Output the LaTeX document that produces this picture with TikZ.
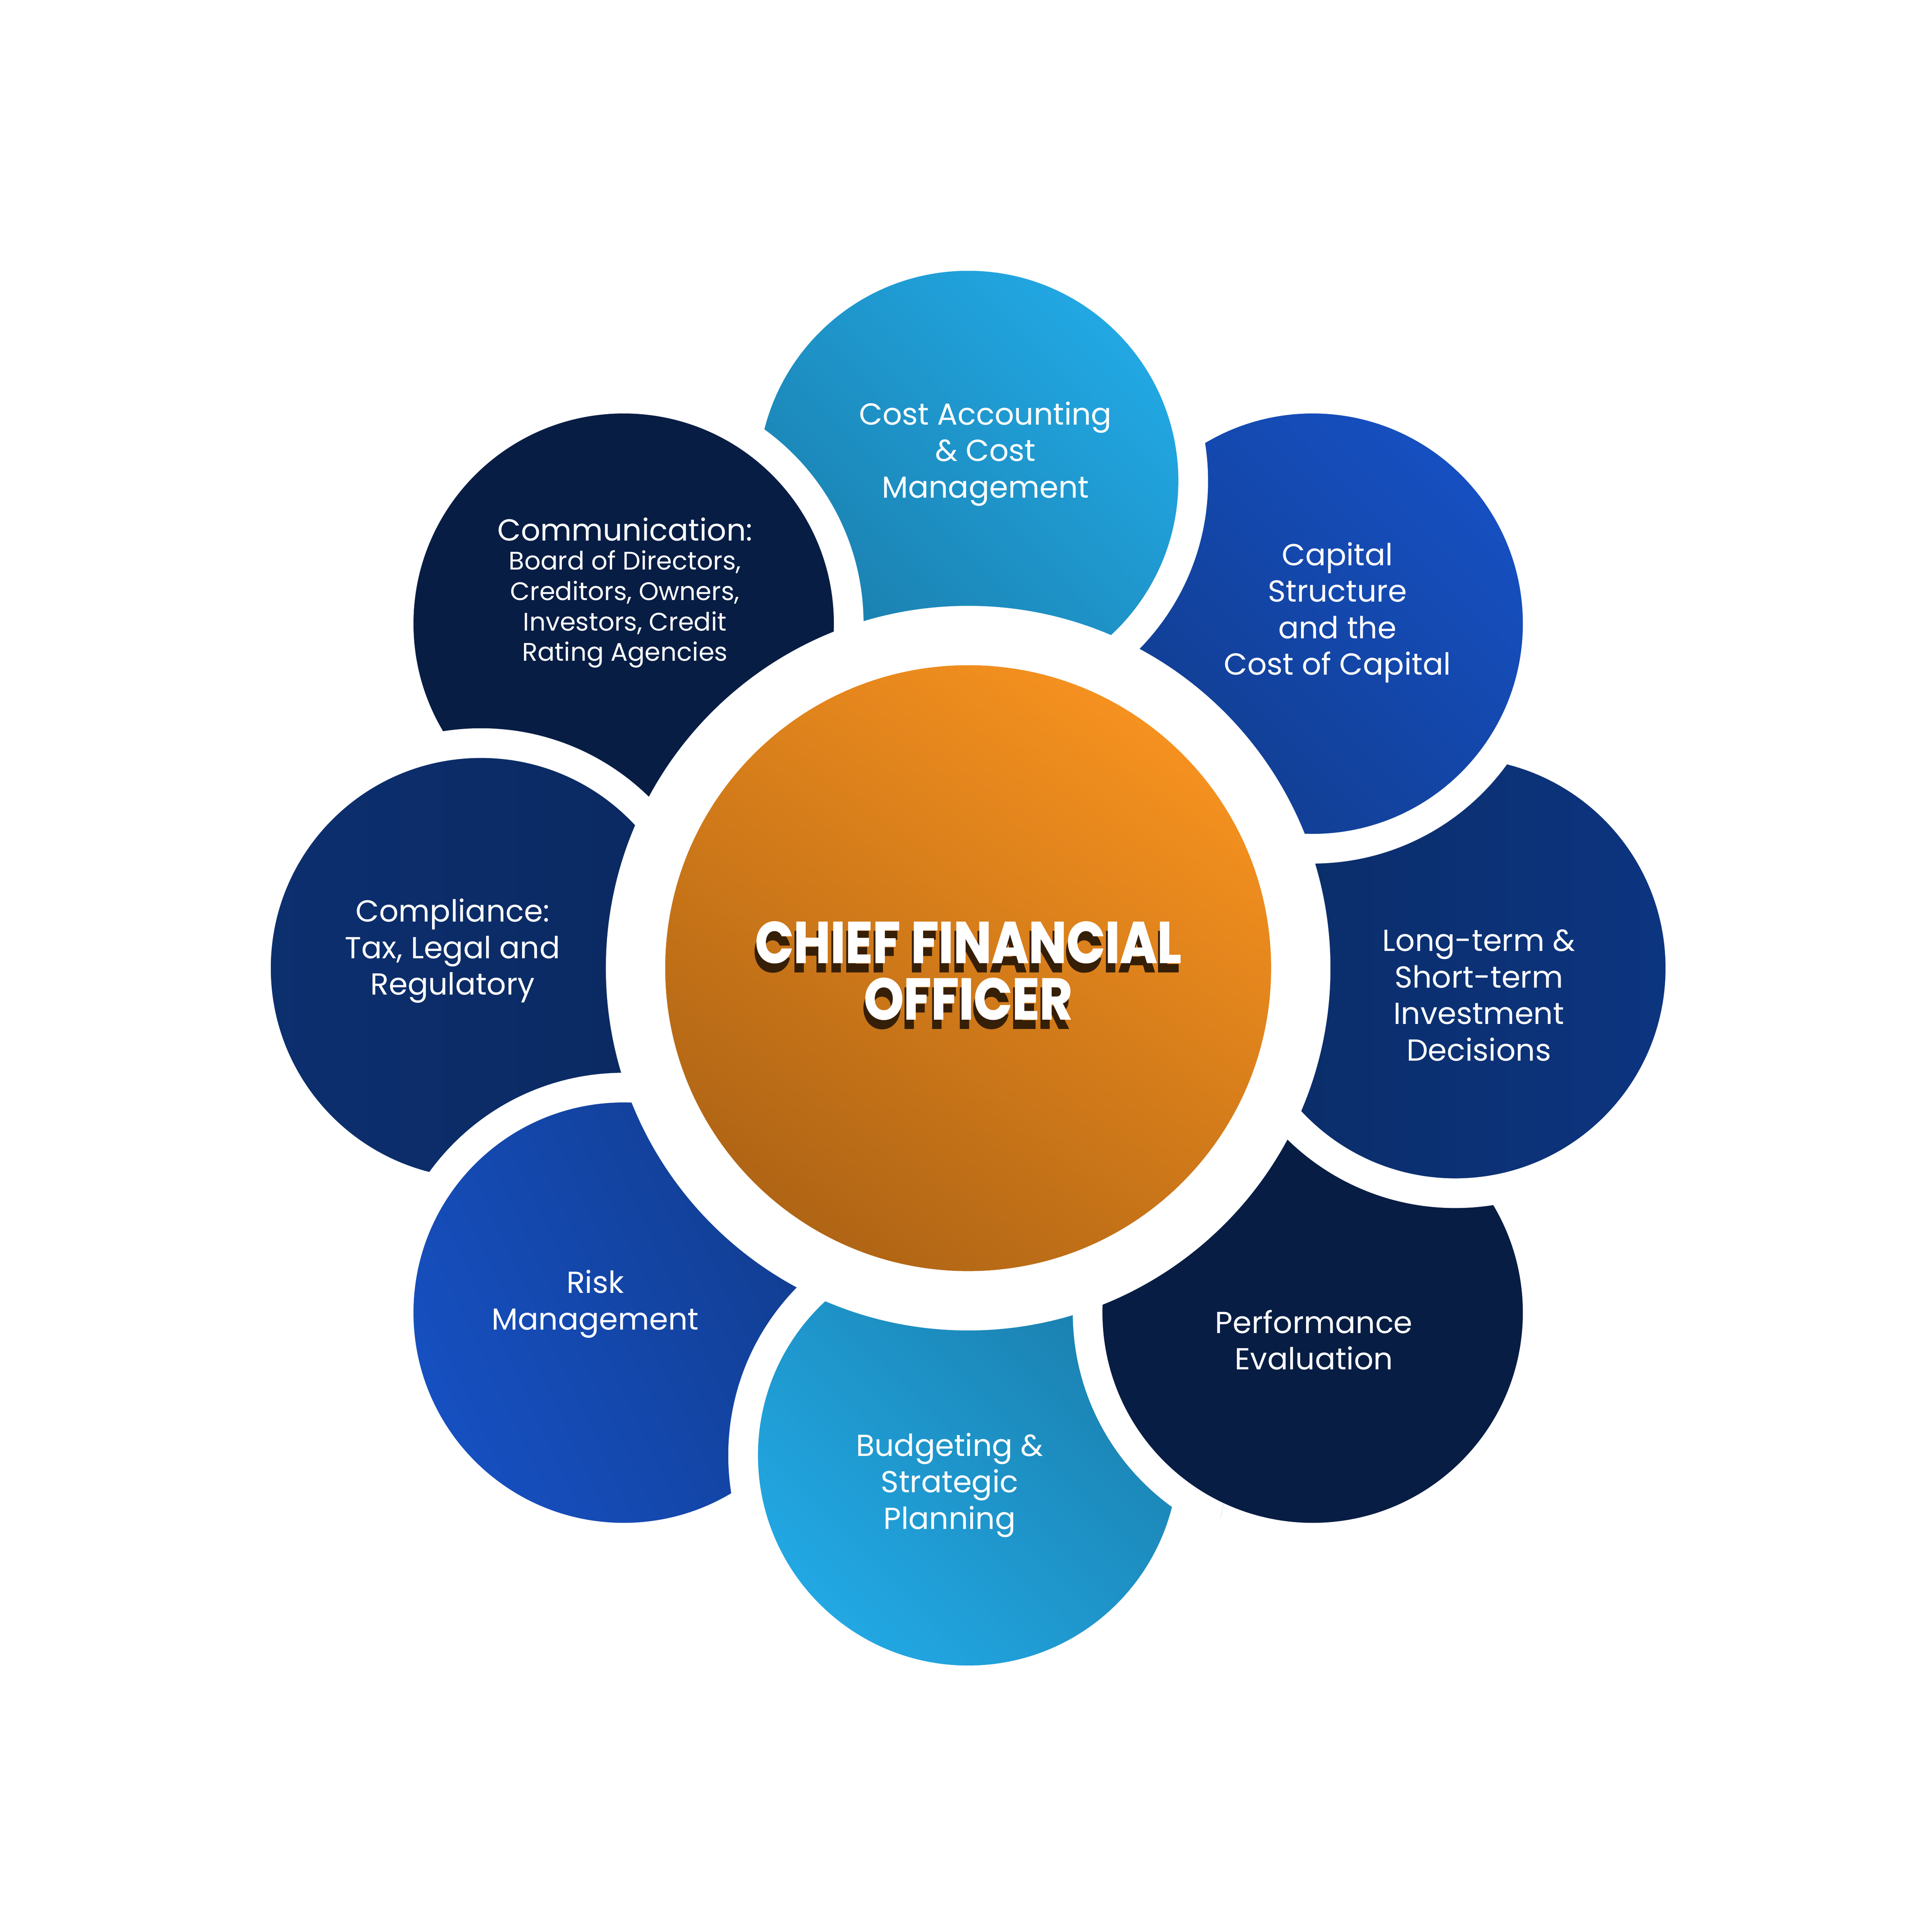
\documentclass[tikz,border=0pt]{standalone}
\usepackage{fontspec}
\setmainfont{Poppins}
\newfontfamily\cfofont{Poppins Bold}[FakeBold=1.4]
\definecolor{cyanlight}{HTML}{22A9E5}
\definecolor{tealdark}{HTML}{1A7DAB}
\definecolor{bluelight}{HTML}{1650C2}
\definecolor{bluedark}{HTML}{113C8E}
\definecolor{navyleft}{HTML}{0C2F6F}
\definecolor{navyright}{HTML}{0B2960}
\definecolor{navydeep}{HTML}{0B2C66}
\definecolor{navyblue}{HTML}{0C3581}
\definecolor{navydark}{HTML}{071D44}
\definecolor{orangelight}{HTML}{F5911F}
\definecolor{orangedark}{HTML}{B06515}
\definecolor{shadowbrown}{HTML}{361F07}
\newcommand\detailfont{\fontsize{11.7}{14}\selectfont}

\begin{document}
\begin{tikzpicture}[x=0.2mm, y=0.2mm,
    petal/.style={circle, draw=white, line width=4.8mm, minimum size=72.8mm, inner sep=0pt},
    petaltext/.style={text=white, align=center, inner sep=0pt, font=\fontsize{14}{16.8}\selectfont},
    cfotext/.style={align=center, inner sep=0pt, transform shape, xscale=.87, font=\fontsize{26.7}{26}\selectfont\cfofont}]
    \useasboundingbox (-783,-779.5) rectangle (779.5,783);
    % petals, each one over its clockwise neighbour
    \node[petal, fill=navydark] (perf) at (315:394) {};
    \node[petal, left color=navydeep, right color=navyblue] (longterm) at (0:394) {};
    \node[petal, top color=bluelight, bottom color=bluedark, shading angle=-45] (capital) at (45:394) {};
    \node[petal, top color=cyanlight, bottom color=tealdark, shading angle=-45] (cost) at (90:394) {};
    \node[petal, fill=navydark] (comm) at (135:394) {};
    \node[petal, left color=navyleft, right color=navyright] (compliance) at (180:394) {};
    \node[petal, top color=bluedark, bottom color=bluelight, shading angle=-65] (risk) at (225:394) {};
    \node[petal, top color=tealdark, bottom color=cyanlight, shading angle=-45] (budget) at (270:394) {};
    % close the ring: performance again, over budgeting only
    \begin{scope}
        \clip (budget.center) circle (210);
        \node[petal, fill=navydark] (perfover) at (315:394) {};
    \end{scope}
    % hub
    \node[circle, fill=white, minimum size=117.2mm, inner sep=0pt] (ring) at (0,0) {};
    \node[circle, minimum size=98mm, inner sep=0pt, top color=orangelight, bottom color=orangedark, shading angle=-35] (hub) at (0,0) {};
    \node[cfotext, text=shadowbrown] (cfoshadow) at ([shift={(-1.5,-9.5)}]hub.center) {CHIEF FINANCIAL\\OFFICER};
    \node[cfotext, text=white] (cfo) at ([shift={(0,-2)}]hub.center) {CHIEF FINANCIAL\\OFFICER};
    % petal texts
    \node[petaltext] (costtxt) at ([shift={(14,22)}]cost.center) {Cost Accounting\\\& Cost\\Management};
    \node[petaltext] (capitaltxt) at ([shift={(20,9)}]capital.center) {Capital\\Structure\\and the\\Cost of Capital};
    \node[petaltext] (longtermtxt) at ([shift={(19,-22)}]longterm.center) {Long-term \&\\Short-term\\Investment\\Decisions};
    \node[petaltext] (perftxt) at ([shift={(1,-22)}]perf.center) {Performance\\Evaluation};
    \node[petaltext] (budgettxt) at ([shift={(-15,-24)}]budget.center) {Budgeting \&\\Strategic\\Planning};
    \node[petaltext] (risktxt) at ([shift={(-23,7)}]risk.center) {Risk\\Management};
    \node[petaltext] (compliancetxt) at ([shift={(-23,14)}]compliance.center) {Compliance:\\Tax, Legal and\\Regulatory};
    \node[petaltext] (commtxt) at ([shift={(1,25)}]comm.center) {Communication:\\[-3.4pt]\detailfont Board of Directors,\\[-2.8pt]\detailfont Creditors, Owners,\\[-2.8pt]\detailfont Investors, Credit\\[-2.8pt]\detailfont Rating Agencies};
\end{tikzpicture}
\end{document}
